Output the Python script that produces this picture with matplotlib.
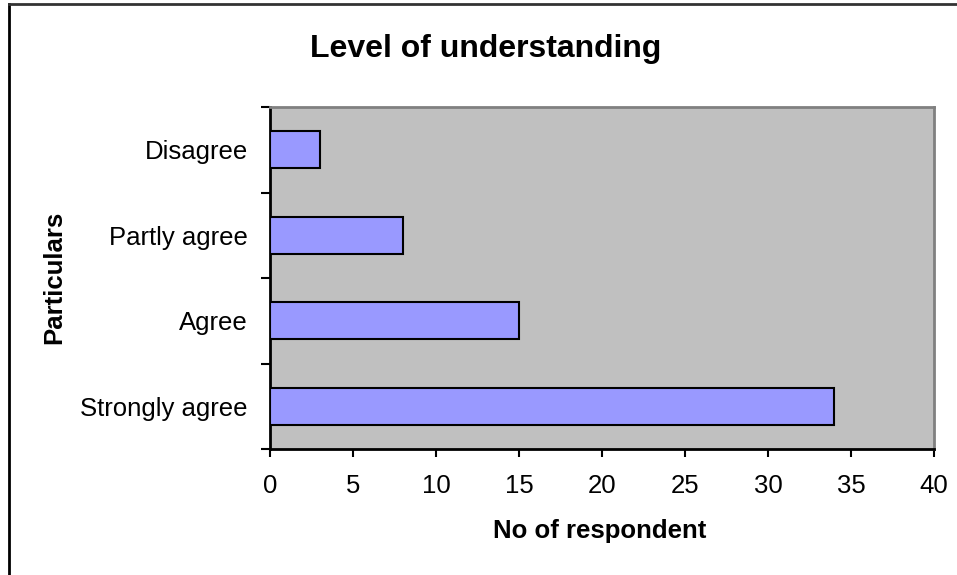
import matplotlib
matplotlib.use("Agg")
import matplotlib.pyplot as plt
from matplotlib.lines import Line2D

categories = ["Strongly agree", "Agree", "Partly agree", "Disagree"]
values = [34, 15, 8, 3]
x_ticks = [0, 5, 10, 15, 20, 25, 30, 35, 40]

plt.rcParams["font.family"] = ["Liberation Sans", "DejaVu Sans"]

W, H = 957, 575
fig = plt.figure(figsize=(W / 100, H / 100), dpi=100)
fig.patch.set_facecolor("white")

left, right, top, bottom = 270, 934, 107, 449
ax = fig.add_axes([left / W, 1 - bottom / H, (right - left) / W, (bottom - top) / H])
ax.set_facecolor("#C0C0C0")

ypos = list(range(len(categories)))
ax.barh(ypos, values, height=0.43, color="#9999FF", edgecolor="black", linewidth=1.5, zorder=3)

ax.set_xlim(0, 40)
ax.set_ylim(-0.5, len(categories) - 0.5)
ax.set_xticks(x_ticks)
ax.set_xticklabels([str(t) for t in x_ticks], fontsize=18.5)
ax.set_yticks(ypos)
ax.set_yticklabels(categories, fontsize=18.5)
ax.tick_params(axis="y", which="major", length=0, pad=16)
ax.set_yticks([i - 0.5 for i in range(len(categories) + 1)], minor=True)
ax.tick_params(axis="y", which="minor", length=6.5, width=1.5, direction="out")
ax.tick_params(axis="x", which="major", length=6, width=1.5, direction="out", pad=12)

for side in ["left", "bottom"]:
    ax.spines[side].set_color("black")
    ax.spines[side].set_linewidth(2)
for side in ["top", "right"]:
    ax.spines[side].set_color("#808080")
    ax.spines[side].set_linewidth(2)

# axis titles and chart title
fig.text(600 / W, 1 - 538 / H, "No of respondent", ha="center", va="baseline",
         fontsize=18.5, fontweight="bold")
fig.text(61 / W, 1 - 277 / H, "Particulars", ha="center", va="baseline",
         rotation=90, rotation_mode="anchor", fontsize=18.5, fontweight="bold")
fig.text(486 / W, 1 - 56.5 / H, "Level of understanding", ha="center", va="baseline",
         fontsize=23, fontweight="bold")

# chart frame
fig.add_artist(Line2D([8.5 / W, 8.5 / W], [0, 1 - 3.5 / H], transform=fig.transFigure,
                      color="black", linewidth=2))
fig.add_artist(Line2D([8.5 / W, 1], [1 - 3.5 / H, 1 - 3.5 / H], transform=fig.transFigure,
                      color="#333333", linewidth=2))

fig.savefig("out.png", dpi=100)
